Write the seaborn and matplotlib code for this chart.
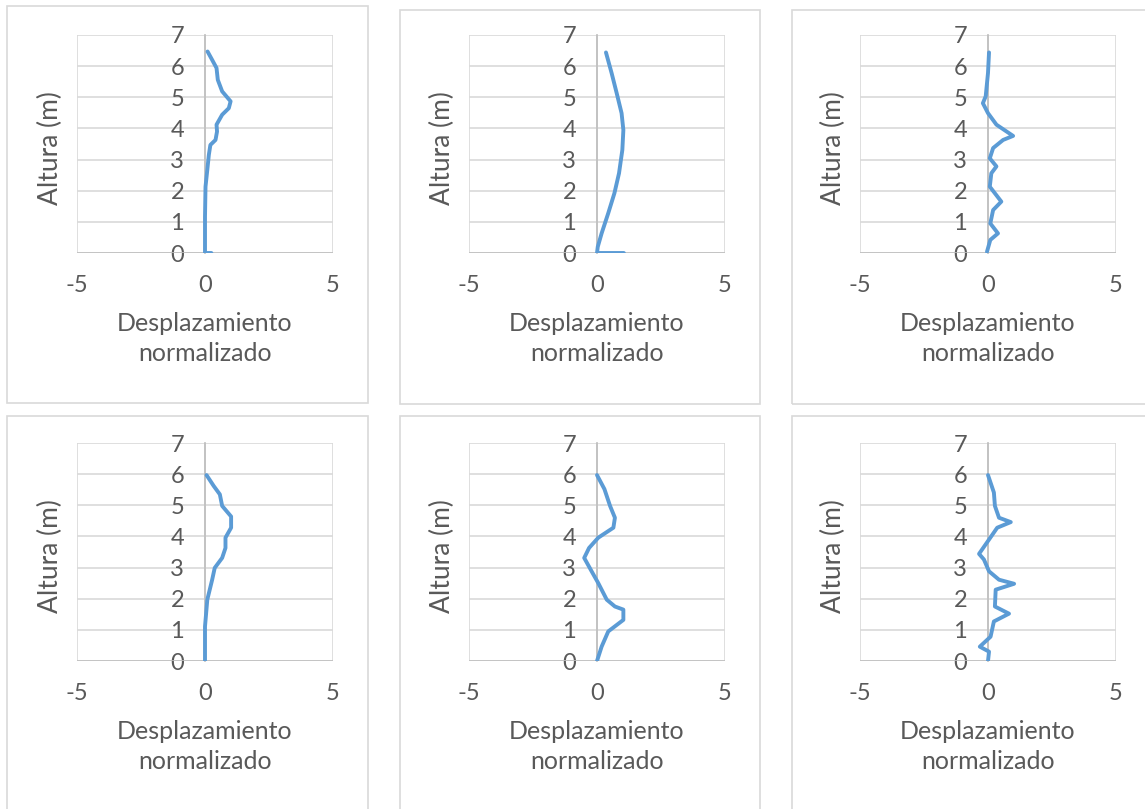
import seaborn as sns
import matplotlib.pyplot as plt
from matplotlib.patches import Rectangle

# displacement (x) vs height (y) for the six panels
x1 = [0.25, 0.0, 0.0, 0.02, 0.09, 0.15, 0.21, 0.41, 0.47, 0.45, 0.67, 0.93, 1.0, 0.67, 0.5, 0.45, 0.28, 0.1]
y1 = [0.0, 0.0, 1.17, 2.13, 2.67, 3.15, 3.47, 3.63, 3.9, 4.12, 4.44, 4.65, 4.87, 5.19, 5.56, 5.94, 6.2, 6.47]

x2 = [1.05, 0.0, 0.03, 0.18, 0.44, 0.68, 0.86, 0.99, 1.03, 0.96, 0.77, 0.57, 0.35]
y2 = [0.0, 0.0, 0.2, 0.63, 1.28, 1.92, 2.56, 3.31, 3.95, 4.49, 5.13, 5.78, 6.44]

x3 = [-0.04, 0.09, 0.39, 0.09, 0.2, 0.52, 0.07, 0.13, 0.33, 0.07, 0.2, 0.59, 0.98, 0.33, 0.0, -0.2, -0.09, 0.0, 0.04]
y3 = [0.04, 0.42, 0.63, 0.95, 1.38, 1.65, 2.13, 2.56, 2.78, 3.04, 3.37, 3.63, 3.76, 4.12, 4.49, 4.81, 5.03, 5.78, 6.44]

x4 = [0.0, 0.0, 0.09, 0.28, 0.38, 0.67, 0.8, 0.8, 1.02, 1.02, 0.67, 0.58, 0.34, 0.06]
y4 = [0.0, 1.11, 1.97, 2.61, 2.99, 3.31, 3.63, 3.96, 4.28, 4.64, 4.98, 5.35, 5.62, 5.97]

x5 = [0.0, 0.18, 0.44, 1.03, 1.03, 0.7, 0.38, 0.05, -0.21, -0.5, -0.31, 0.05, 0.64, 0.7, 0.51, 0.29, 0.0]
y5 = [0.0, 0.46, 0.95, 1.32, 1.65, 1.75, 1.97, 2.5, 2.88, 3.31, 3.63, 3.96, 4.28, 4.6, 4.98, 5.52, 5.97]

x6 = [0.0, 0.04, -0.32, 0.1, 0.23, 0.82, 0.27, 0.3, 1.02, 0.43, 0.04, -0.16, -0.35, 0.04, 0.36, 0.89, 0.43, 0.27, 0.23, 0.0]
y6 = [0.0, 0.3, 0.46, 0.78, 1.27, 1.52, 1.75, 2.29, 2.48, 2.61, 2.88, 3.26, 3.44, 3.9, 4.28, 4.46, 4.6, 4.98, 5.41, 5.97]

series = [(x1, y1), (x2, y2), (x3, y3), (x4, y4), (x5, y5), (x6, y6)]
x_ticks = [-5, 0, 5]
y_ticks = [0, 1, 2, 3, 4, 5, 6, 7]

W, H = 1145, 809
blue = '#5B9BD5'
grid = '#D9D9D9'
txt = '#595959'

sns.set_theme(style='white')
plt.rcParams['font.family'] = ['Lato', 'DejaVu Sans']
plt.rcParams['axes.unicode_minus'] = False

fig = plt.figure(figsize=(W / 100, H / 100), dpi=100)

# outer chart frames (pixels: left, top, right, bottom)
frames = [(7, 6, 368, 403), (400, 10, 760, 404), (792, 10, 1150, 404),
          (7, 416, 368, 815), (400, 416, 760, 815), (792, 416, 1150, 815)]
for l, t, r, b in frames:
    fig.patches.append(Rectangle((l / W, 1 - b / H), (r - l) / W, (b - t) / H,
                                 transform=fig.transFigure, fill=False,
                                 edgecolor=grid, linewidth=1.2))

lefts = [77, 469, 860]
bottoms = [253, 661]
for i, (xs, ys) in enumerate(series):
    left = lefts[i % 3]
    bottom = bottoms[i // 3]
    ax = fig.add_axes([left / W, 1 - bottom / H, 256 / W, 218 / H])
    sns.lineplot(x=xs, y=ys, sort=False, estimator=None, ax=ax,
                 color=blue, linewidth=2.8)
    ax.set_xlim(-5, 5)
    ax.set_ylim(0, 7)
    ax.set_xticks(x_ticks)
    ax.set_yticks(y_ticks)
    ax.grid(True, color=grid, linewidth=1.2)
    ax.set_axisbelow(True)
    for s in ['top', 'right', 'bottom']:
        ax.spines[s].set_visible(False)
    ax.spines['left'].set_position(('data', 0))
    ax.spines['left'].set_color('#BFBFBF')
    ax.spines['left'].set_zorder(1)
    ax.axhline(0, color='#BFBFBF', linewidth=1.2, zorder=1)
    ax.tick_params(axis='x', length=0, pad=16, labelsize=17, labelcolor=txt)
    ax.tick_params(axis='y', length=0, pad=15, labelsize=17, labelcolor=txt)
    ax.set_xlabel('Desplazamiento\nnormalizado', fontsize=18, color=txt,
                  linespacing=1.35)
    ax.xaxis.set_label_coords(0.5, -0.27)
    ax.xaxis.label.set_va('top')
    ax.set_ylabel('Altura (m)', fontsize=19, color=txt)
    ax.yaxis.set_label_coords(-0.055, 0.48)

fig.savefig('out.png', dpi=100, facecolor='white')
